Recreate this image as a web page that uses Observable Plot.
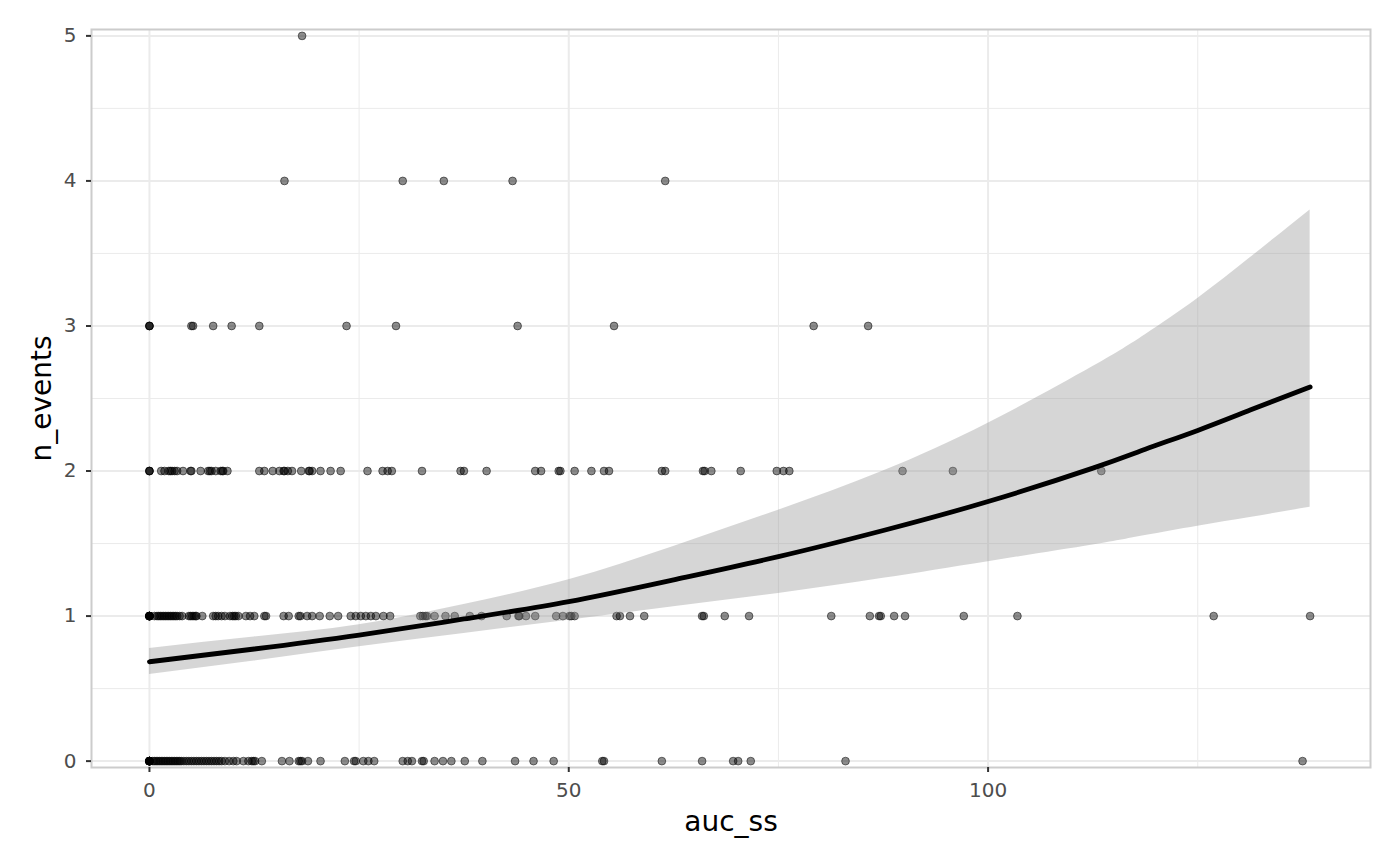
<!DOCTYPE html>
<html>
<head>
<meta charset="utf-8">
<script src="https://cdn.jsdelivr.net/npm/d3@7"></script>
<script src="https://cdn.jsdelivr.net/npm/@observablehq/plot@0.6"></script>
<style>
  html, body { margin: 0; padding: 0; background: #fff; }
  #chart svg { display: block; font-family: "DejaVu Sans", sans-serif; }
</style>
</head>
<body>
<div id="chart"></div>
<script>
// observed points: auc_ss values at each n_events level
const xAt5 = [18.2];
const xAt4 = [16.1, 30.2, 35.1, 43.3, 61.5];
const xAt3 = [0, 0, 0, 5.0, 5.2, 7.6, 9.8, 13.1, 23.5, 29.4, 43.9, 55.4, 79.2, 85.7];
const xAt2 = [0, 0, 0, 1.4, 1.8, 2.3, 2.5, 2.7, 3.0, 3.3, 4.0, 4.9, 5.0, 6.1, 7.0, 7.2, 7.4, 7.9, 8.5, 8.7, 8.8, 9.3,
  13.1, 13.7, 14.7, 15.5, 16.0, 16.1, 16.5, 17.0, 18.1, 19.0, 19.1, 19.4, 20.4, 21.6, 22.8, 26.0, 27.8, 28.4, 28.9,
  32.5, 37.1, 37.5, 40.2, 46.0, 46.7, 48.8, 49.0, 50.7, 52.7, 54.2, 54.8, 61.1, 61.5, 66.0, 66.2, 67.0, 70.5,
  74.8, 75.6, 76.3, 89.8, 95.8, 113.5];
const xAt1 = [0, 0, 0, 0, 0, 0, 0, 0, 0.6, 0.9, 1.1, 1.3, 1.5, 1.7, 1.9, 2.1, 2.3, 2.5, 2.7, 2.9, 3.1, 3.3, 3.6, 3.9,
  4.7, 4.9, 5.1, 5.3, 5.5, 5.6, 6.3, 7.6, 7.9, 8.2, 8.6, 9.0, 9.6, 9.9, 10.1, 10.3, 10.6, 11.5, 12.0, 12.5,
  13.7, 13.9, 16.0, 16.6, 17.8, 18.0, 18.8, 19.4, 20.3, 21.5, 22.5, 24.0, 24.6, 25.2, 25.8, 26.4, 27.0, 27.9, 28.7,
  32.3, 32.6, 32.9, 33.1, 34.0, 35.3, 36.4, 38.2, 39.6, 42.6, 44.0, 44.1, 44.9, 46.0, 48.5, 49.3, 50.1, 50.3, 50.7,
  55.7, 56.1, 57.3, 59.0, 65.9, 66.1, 68.6, 71.5, 81.3, 85.9, 87.0, 87.2, 88.8, 90.1, 97.1, 103.5, 126.9, 138.4];
const xAt0 = [0, 0, 0, 0, 0, 0, 0, 0, 0, 0, 0.4, 0.6, 0.8, 1.0, 1.2, 1.4, 1.6, 1.8, 2.0, 2.2, 2.4, 2.6, 2.8, 3.0,
  3.2, 3.4, 3.6, 3.8, 4.1, 4.4, 4.7, 5.0, 5.3, 5.6, 5.9, 6.2, 6.5, 6.8, 7.1, 7.4, 7.7, 8.0, 8.3, 8.6, 9.0,
  9.5, 10.0, 10.4, 11.2, 11.8, 12.2, 12.4, 12.6, 13.4, 15.8, 16.7, 17.8, 18.0, 18.2, 18.9, 20.4, 23.3, 24.4, 24.6,
  25.5, 26.1, 26.8, 30.2, 30.8, 31.3, 32.5, 32.7, 34.0, 35.0, 36.0, 37.6, 39.7, 43.6, 45.8, 48.2, 54.0, 54.2,
  61.1, 65.9, 69.6, 70.2, 71.7, 83.0, 137.5];

// smooth fit and confidence band
const smoothX     = [0, 12.5, 25, 37.5, 50, 62.5, 75, 87.5, 100, 112.5, 118.75, 125, 131.25, 138.4];
const smoothFit   = [0.685, 0.773, 0.869, 0.98, 1.10, 1.25, 1.41, 1.59, 1.79, 2.02, 2.15, 2.28, 2.42, 2.58];
const smoothLower = [0.598, 0.69, 0.788, 0.88, 0.972, 1.064, 1.156, 1.26, 1.375, 1.49, 1.555, 1.62, 1.68, 1.75];
const smoothUpper = [0.777, 0.855, 0.94, 1.08, 1.25, 1.48, 1.73, 2.0, 2.33, 2.72, 2.94, 3.19, 3.47, 3.80];

// ticks
const xTicks = [0, 50, 100];
const xMinor = [25, 75, 125];
const yTicks = [0, 1, 2, 3, 4, 5];
const yMinor = [0.5, 1.5, 2.5, 3.5, 4.5];

const levels = [[0, xAt0], [1, xAt1], [2, xAt2], [3, xAt3], [4, xAt4], [5, xAt5]];
const points = levels.flatMap(([y, xs]) => xs.map(x => ({x, y})));
const smooth = smoothX.map((x, i) => ({x, fit: smoothFit[i], lo: smoothLower[i], hi: smoothUpper[i]}));

const chart = Plot.plot({
  width: 1400,
  height: 866,
  marginLeft: 91,
  marginRight: 30,
  marginTop: 29,
  marginBottom: 99,
  style: {fontFamily: "DejaVu Sans", background: "#fff"},
  x: {domain: [-6.91, 145.6]},
  y: {domain: [-0.044, 5.044]},
  marks: [
    Plot.ruleX(xMinor, {stroke: "#ebebeb", strokeWidth: 1}),
    Plot.ruleY(yMinor, {stroke: "#ebebeb", strokeWidth: 1}),
    Plot.ruleX(xTicks, {stroke: "#ebebeb", strokeWidth: 2}),
    Plot.ruleY(yTicks, {stroke: "#ebebeb", strokeWidth: 2}),
    Plot.dot(points, {x: "x", y: "y", r: 3.9, fill: "black", fillOpacity: 0.45, stroke: "black", strokeOpacity: 0.5, strokeWidth: 1}),
    Plot.areaY(smooth, {x: "x", y1: "lo", y2: "hi", fill: "#999999", fillOpacity: 0.4, curve: "natural"}),
    Plot.line(smooth, {x: "x", y: "fit", stroke: "black", strokeWidth: 4.8, curve: "natural"}),
    Plot.frame({stroke: "#cccccc", strokeWidth: 2}),
    Plot.axisX(xTicks, {tickSize: 5, stroke: "#333333", strokeWidth: 2, label: null, tickFormat: () => ""}),
    Plot.axisY(yTicks, {tickSize: 5, stroke: "#333333", strokeWidth: 2, label: null, tickFormat: () => ""}),
    Plot.text(xTicks, {x: d => d, text: d => String(d), frameAnchor: "bottom", lineAnchor: "middle", dy: 23, fontSize: 20, fill: "#4d4d4d"}),
    Plot.text(yTicks, {y: d => d, text: d => String(d), frameAnchor: "left", lineAnchor: "middle", dx: -15, textAnchor: "end", fontSize: 20, fill: "#4d4d4d"}),
    Plot.text(["auc_ss"], {frameAnchor: "bottom", lineAnchor: "middle", textAnchor: "middle", dy: 55, fontSize: 28, fill: "black"}),
    Plot.text(["n_events"], {frameAnchor: "left", lineAnchor: "middle", textAnchor: "middle", dx: -49, rotate: -90, fontSize: 28, fill: "black"})
  ]
});
document.getElementById("chart").appendChild(chart);
</script>
</body>
</html>
